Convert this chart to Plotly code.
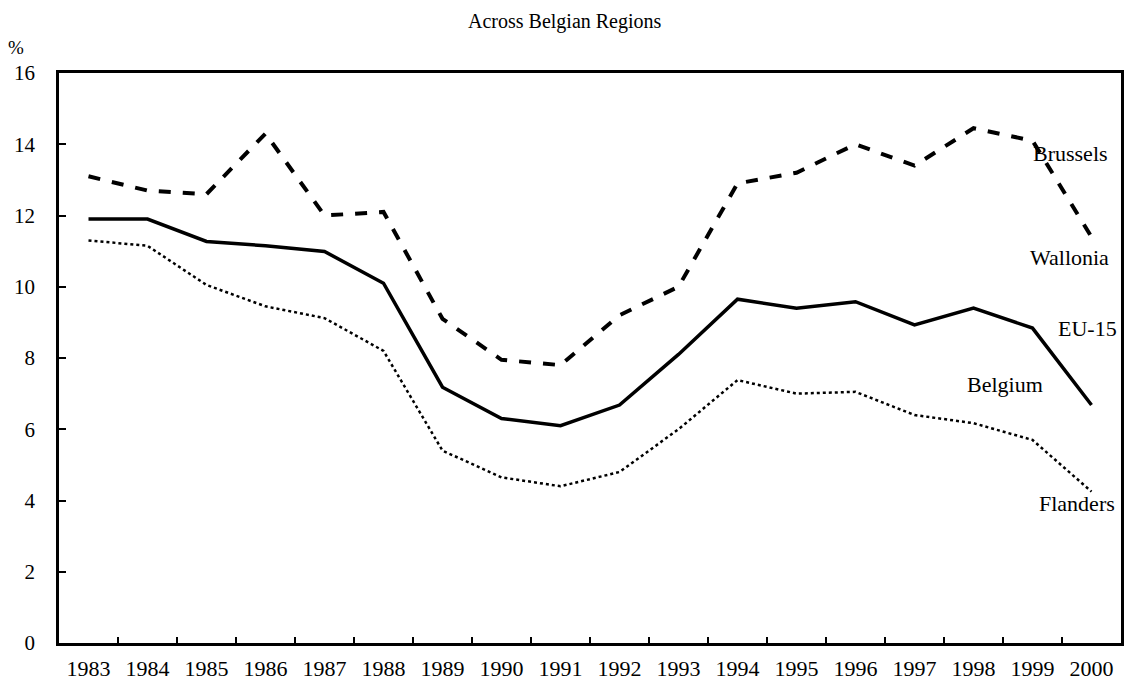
import plotly.graph_objects as go

years = [str(y) for y in range(1983, 2001)]
upper_dashed = [13.1, 12.7, 12.6, 14.3, 12.0, 12.1, 9.1, 7.95, 7.8, 9.2, 10.0, 12.9, 13.2, 14.0, 13.4, 14.45, 14.1, 11.4]
middle_solid = [11.9, 11.9, 11.27, 11.15, 10.99, 10.1, 7.18, 6.3, 6.1, 6.68, 8.1, 9.65, 9.4, 9.58, 8.93, 9.4, 8.84, 6.68]
lower_dotted = [11.3, 11.15, 10.05, 9.45, 9.12, 8.2, 5.4, 4.65, 4.4, 4.8, 6.0, 7.38, 7.0, 7.05, 6.4, 6.17, 5.7, 4.25]

labels = ["Brussels", "Wallonia", "EU-15", "Belgium", "Flanders"]
label_x = [1070, 1069, 1087, 1005, 1077]
label_y = [153, 257, 328, 384, 503]

FONT = "Liberation Serif"
W, H = 1125, 692
L, R, T, B = 59, 4, 73, 49
pw, ph = W - L - R, H - T - B


def px(x):
    return (x - L) / pw


def py(y):
    return 1 - (y - T) / ph


fig = go.Figure()
fig.add_trace(go.Scatter(x=years, y=upper_dashed, mode="lines",
                         line=dict(color="black", width=4, dash="dash"), showlegend=False))
fig.add_trace(go.Scatter(x=years, y=middle_solid, mode="lines",
                         line=dict(color="black", width=3.5), showlegend=False))
fig.add_trace(go.Scatter(x=years, y=lower_dotted, mode="lines",
                         line=dict(color="black", width=2.5, dash="dot"), showlegend=False))

for t, x, y in zip(labels, label_x, label_y):
    fig.add_annotation(text=t, x=px(x), y=py(y), xref="paper", yref="paper", showarrow=False,
                       xanchor="center", yanchor="middle",
                       font=dict(family=FONT, size=22, color="black"))

fig.add_annotation(text="Across Belgian Regions", x=px(565), y=py(22),
                   xref="paper", yref="paper", showarrow=False,
                   xanchor="center", yanchor="middle",
                   font=dict(family=FONT, size=20, color="black"))
fig.add_annotation(text="%", x=px(16), y=py(47),
                   xref="paper", yref="paper", showarrow=False,
                   xanchor="center", yanchor="middle",
                   font=dict(family=FONT, size=19, color="black"))

fig.update_layout(
    width=W, height=H,
    margin=dict(l=L, r=R, t=T, b=B, autoexpand=False),
    paper_bgcolor="white", plot_bgcolor="white",
    font=dict(family=FONT, size=21, color="black"),
)
fig.update_xaxes(type="category", range=[-0.5, 17.5], tickson="boundaries", ticks="inside",
                 ticklen=6, tickwidth=1.5, automargin=False,
                 tickcolor="black", showline=True, linecolor="black", linewidth=2.5, mirror=True,
                 showgrid=False, zeroline=False, ticklabelstandoff=4,
                 tickfont=dict(family=FONT, size=22))
fig.update_yaxes(range=[0, 16], dtick=2, ticks="inside", ticklen=7, tickwidth=2, tickcolor="black",
                 showline=True, linecolor="black", linewidth=2.5, mirror=True, automargin=False,
                 showgrid=False, zeroline=False, ticklabelstandoff=17,
                 tickfont=dict(family=FONT, size=21))

fig.write_html("out.html", config={"displayModeBar": False},
               post_script="document.body.style.margin='0';document.body.style.overflow='hidden';")
